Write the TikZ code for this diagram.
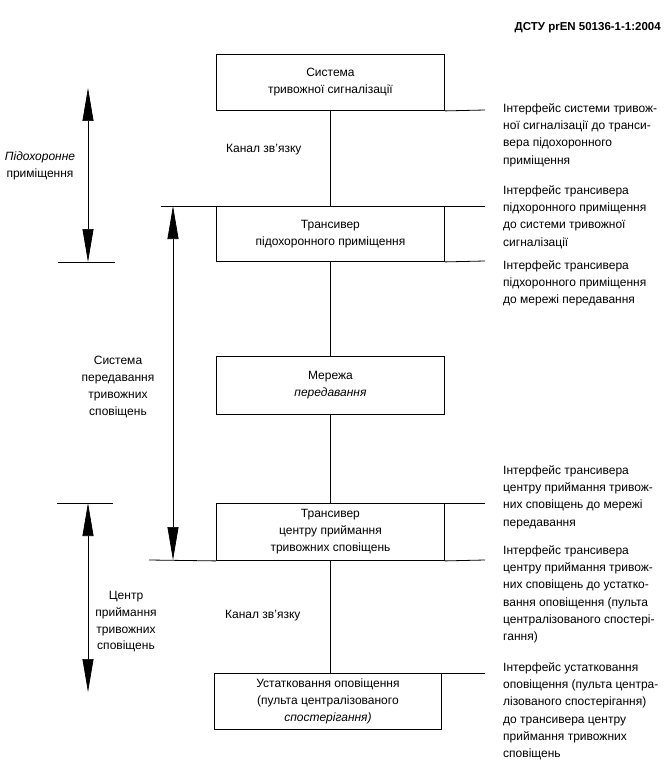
\documentclass[tikz,border=0pt]{standalone}
\usepackage{fontspec}
\setmainfont{Liberation Sans}
\usetikzlibrary{arrows.meta}
\begin{document}
\begin{tikzpicture}[x=1pt,y=-1pt,
  every node/.style={font=\fontsize{12}{17.3}\selectfont},
  blk/.style={draw, line width=0.9pt, minimum width=228pt, align=center, inner sep=0pt, anchor=north west, font=\fontsize{12}{17}\selectfont},
  ln/.style={line width=0.8pt},
  dim/.style={line width=0.7pt, {Triangle[length=33pt,width=11pt]}-{Triangle[length=33pt,width=11pt]}},
  lbl/.style={align=center, inner sep=0pt, font=\fontsize{12}{16.7}\selectfont},
  note/.style={anchor=north west, align=left, inner sep=0pt}]
\useasboundingbox (0,0) rectangle (668,765);
% header
\node[anchor=east, inner sep=0pt, font=\fontsize{11.5}{12}\selectfont\bfseries] (hdr) at (661,28) {ДСТУ prEN 50136-1-1:2004};
% boxes
\node[blk, minimum height=56pt] (sys) at (216,54) {Система\\тривожної сигналізації};
\node[blk, minimum height=55pt] (trp) at (216,206) {Трансивер\\підохоронного приміщення};
\node[blk, minimum height=58pt] (net) at (216,356) {Мережа\\\textit{передавання}};
\node[blk, minimum height=57pt] (trc) at (216,503) {Трансивер\\центру приймання\\тривожних сповіщень};
\node[blk, minimum width=227pt, minimum height=56pt] (dev) at (214,673) {Устатковання оповіщення\\(пульта централізованого\\\textit{спостерігання)}};
% vertical connectors
\draw[ln] (sys.south) -- (trp.north);
\draw[ln] (trp.south) -- (net.north);
\draw[ln] (net.south) -- (trc.north);
\draw[ln] (trc.south) -- (trc.south |- dev.north);
% interface lines
\coordinate (r1) at (485,110);
\coordinate (l2) at (161,206);
\coordinate (r2) at (485,206);
\coordinate (r3) at (485,261);
\coordinate (r4) at (485,503);
\coordinate (l5) at (149,560);
\coordinate (r5) at (485,560);
\coordinate (r6) at (485,673);
\draw[ln] (sys.south east) -- (r1);
\draw[ln] (l2) -- (trp.north west);
\draw[ln] (trp.north east) -- (r2);
\draw[ln] (trp.south east) -- (r3);
\draw[ln] (trc.north east) -- (r4);
\draw[ln] (l5) -- (trc.south west);
\draw[ln] (trc.south east) -- (r5);
\draw[ln] (dev.north east) -- (r6);
% dimension arrows
\coordinate (a1t) at (88,88);
\coordinate (a1b) at (88,262);
\coordinate (t1l) at (58,262);
\coordinate (t1r) at (115,262);
\draw[ln] (t1l) -- (t1r);
\draw[dim] (a1t) -- (a1b);
\coordinate (a2t) at (173,206);
\coordinate (a2b) at (173,560);
\draw[dim] (a2t) -- (a2b);
\coordinate (a3t) at (88,503);
\coordinate (a3b) at (88,692);
\coordinate (t3l) at (57,503);
\coordinate (t3r) at (113,503);
\draw[ln] (t3l) -- (t3r);
\draw[dim] (a3t) -- (a3b);
% left labels
\node[lbl] (lab1) at (40,166) {\textit{Підохоронне}\\приміщення};
\node[lbl] (lab2) at (118,387) {Система\\передавання\\тривожних\\сповіщень};
\node[lbl] (lab3) at (126,622) {Центр\\приймання\\тривожних\\сповіщень};
\node[anchor=west, inner sep=0pt] (ch1) at (226,150) {Канал зв'язку};
\node[anchor=west, inner sep=0pt] (ch2) at (225,616) {Канал зв'язку};
% right notes
\node[note] (n1) at (503,103) {Інтерфейс системи тривож-\\ної сигналізації до транси-\\вера підохоронного\\приміщення};
\node[note] (n2) at (503,185) {Інтерфейс трансивера\\підхоронного приміщення\\до системи тривожної\\сигналізації};
\node[note] (n3) at (503,260) {Інтерфейс трансивера\\підхоронного приміщення\\до мережі передавання};
\node[note] (n4) at (503,465) {Інтерфейс трансивера\\центру приймання тривож-\\них сповіщень до мережі\\передавання};
\node[note] (n5) at (503,545) {Інтерфейс трансивера\\центру приймання тривож-\\них сповіщень до устатко-\\вання оповіщення (пульта\\централізованого спостері-\\гання)};
\node[note] (n6) at (503,662) {Інтерфейс устатковання\\оповіщення (пульта центра-\\лізованого спостерігання)\\до трансивера центру\\приймання тривожних\\сповіщень};
\end{tikzpicture}
\end{document}
